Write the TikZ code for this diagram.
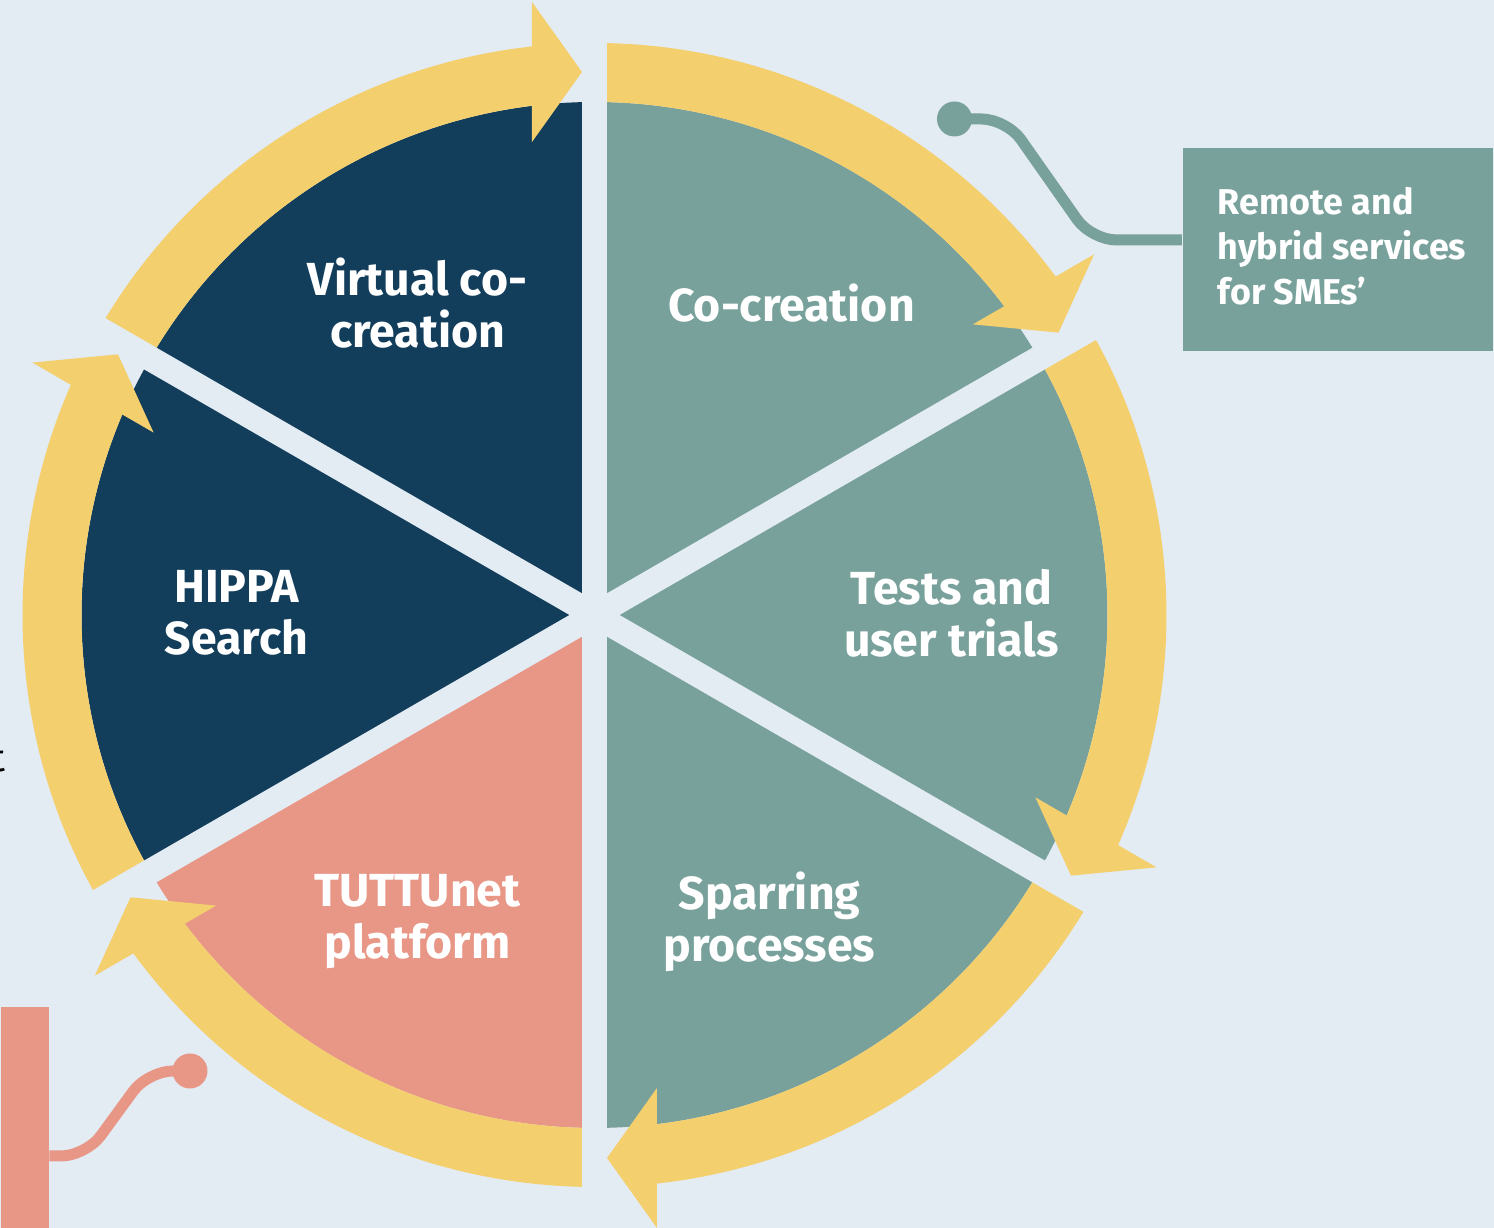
\documentclass[tikz,border=0pt]{standalone}
\usepackage{fontspec}
\setmainfont{Fira Sans}
\usetikzlibrary{positioning}

\definecolor{bgblue}{HTML}{E3EBF3}
\definecolor{navy}{HTML}{123E5C}
\definecolor{sage}{HTML}{79A19B}
\definecolor{salmon}{HTML}{E89686}
\definecolor{sun}{HTML}{F4CF6E}

\begin{document}
\begin{tikzpicture}[
	segtext/.style={text=white,align=center,font=\bfseries\fontsize{13.2}{14.8}\selectfont},
	boxtext/.style={text=white,align=left,inner sep=0,font=\bfseries\fontsize{10.2}{12.8}\selectfont},
	gapband/.style={bgblue,line width=0.25cm},
	callout/.style={line width=0.11cm,rounded corners=0.25cm},
	dot/.style={circle,inner sep=0,minimum size=0.35cm}
]
	\clip (-5.945,-6.13) rectangle (8.995,6.15);
	\fill[bgblue] (-5.945,-6.13) rectangle (8.995,6.15);

	% sectors
	\foreach \a/\c in {90/navy,150/navy,210/salmon,270/sage,330/sage,30/sage}{
			\fill[\c] (0,0) -- (\a:5.13) arc[start angle=\a,delta angle=60,radius=5.13] -- cycle;
		}

	% ring, clockwise, arrow head at every gap
	\foreach \s [evaluate=\s as \b using \s-53.8, evaluate=\s as \e using \s-60] in {150,90,30,-30,-90,-150}{
			\fill[sun] (\s:5.13) arc[start angle=\s,end angle=\b,radius=5.13] -- (\b:5.72) arc[start angle=\b,end angle=\s,radius=5.72] -- cycle;
			\fill[sun,rotate=\e] (4.73,0.625) -- (6.13,0.625) -- (5.43,0.125) -- cycle;
		}

	% gaps
	\foreach \a in {30,90,...,330}{
			\draw[gapband] (0,0) -- (\a:5.8);
		}

	\node[segtext] (virtual) at (-1.77,3.12) {Virtual co-\\creation};
	\node[segtext] (cocreation) at (1.97,3.12) {Co-creation};
	\node[segtext] (tests) at (3.57,0.02) {Tests and\\user trials};
	\node[segtext] (hippa) at (-3.58,0.02) {HIPPA\\Search};
	\node[segtext] (tuttunet) at (-1.77,-3.07) {TUTTUnet\\platform};
	\node[segtext] (sparring) at (1.75,-3.07) {Sparring\\processes};

	% callouts
	\node[fill=sage,inner sep=0,minimum width=3.1cm,minimum height=2.03cm,anchor=north west] (smebox) at (5.875,4.68) {};
	\node[boxtext,anchor=west] (smetext) at ([xshift=0.35cm,yshift=0.03cm]smebox.west) {Remote and\\hybrid services\\for SMEs’};
	\node[dot,fill=sage] (smedot) at (3.6,4.96) {};
	\coordinate (smebendA) at (4.12,4.96);
	\coordinate (smebendB) at (4.97,3.75);
	\draw[callout,sage] (smedot.center) -- (smebendA) -- (smebendB) -- (smebendB -| smebox.west);

	\node[fill=salmon,inner sep=0,minimum width=0.48cm,minimum height=2.27cm,anchor=south west] (leftbox) at (-5.945,-6.2) {};
	\node[dot,fill=salmon] (leftdot) at (-4.045,-4.56) {};
	\coordinate (leftbendA) at (-4.465,-4.56);
	\coordinate (leftbendB) at (-5.085,-5.41);
	\draw[callout,salmon] (leftdot.center) -- (leftbendA) -- (leftbendB) -- (leftbendB -| leftbox.east);

	\node[anchor=base east,inner sep=0,font=\fontsize{11}{13}\selectfont] (frag) at (-5.88,-1.57) {t};
\end{tikzpicture}
\end{document}
